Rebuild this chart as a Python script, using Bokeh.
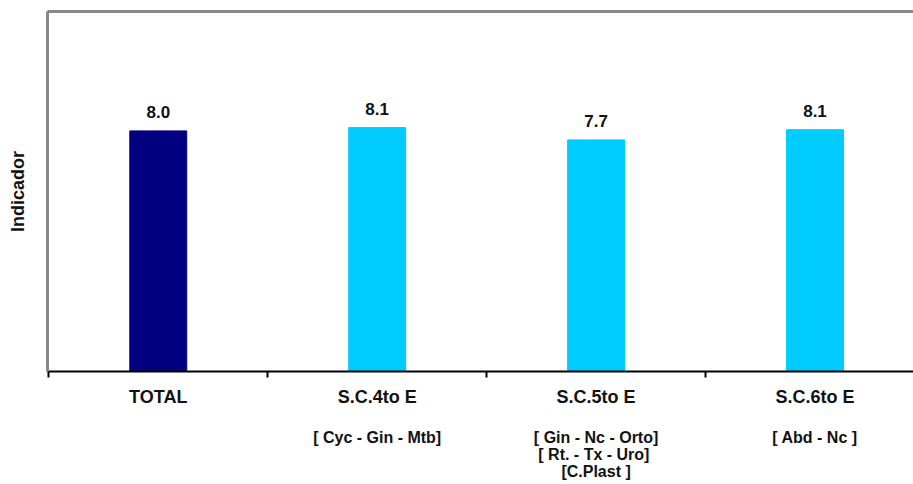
from bokeh.plotting import figure
from bokeh.models import ColumnDataSource, Range1d, LinearAxis, FixedTicker
from bokeh.core.properties import value
from bokeh.embed import file_html
from bokeh.resources import INLINE

categories = ["TOTAL", "S.C.4to E", "S.C.5to E", "S.C.6to E"]
sublabels = ["", "[ Cyc - Gin - Mtb]", "[ Gin - Nc - Orto]\n[ Rt. -  Tx - Uro]\n[C.Plast ]", "[ Abd - Nc ]"]
values = [8.02, 8.13, 7.72, 8.06]
colors = ["#000080", "#00CCFF", "#00CCFF", "#00CCFF"]

FONT = "Liberation Sans"

xs = [i + 0.5 for i in range(len(categories))]
src = ColumnDataSource(dict(
    x=xs, top=values, color=colors,
    label=["%.1f" % v for v in values],
))

p = figure(width=913, height=484, output_backend="svg", toolbar_location=None,
           x_range=Range1d(-0.006, 3.95), y_range=Range1d(0, 12),
           x_axis_type=None, y_axis_type=None,
           min_border_left=47, min_border_right=0, min_border_top=11, min_border_bottom=113)
p.outline_line_color = None
p.xgrid.visible = False
p.ygrid.visible = False
p.background_fill_color = "white"
p.border_fill_color = "white"

p.vbar(x="x", top="top", bottom=0, width=0.26, color="color", source=src)
p.text(x="x", y="top", text="label", source=src, text_align="center",
       text_baseline="alphabetic", y_offset=-19, text_font=value(FONT),
       text_font_style="bold", text_font_size="17px", text_color="#111111")

# left axis (gray border) with title
yaxis = LinearAxis(ticker=FixedTicker(ticks=[]), axis_label="Indicador",
                   axis_line_color="#888888", axis_line_width=3,
                   major_tick_line_color=None, minor_tick_line_color=None,
                   axis_label_standoff=20,
                   axis_label_text_font=FONT, axis_label_text_font_style="bold",
                   axis_label_text_font_size="18px", axis_label_text_color="#111111")
p.add_layout(yaxis, "left")

# top border
top = LinearAxis(ticker=FixedTicker(ticks=[]), axis_line_color="#888888", axis_line_width=3,
                 major_tick_line_color=None, minor_tick_line_color=None,
                 major_label_standoff=0)
p.add_layout(top, "above")

# main x axis
xaxis = LinearAxis(ticker=FixedTicker(ticks=xs, minor_ticks=list(range(len(categories) + 1))),
                   axis_line_color="black", axis_line_width=2,
                   major_tick_line_color=None, major_tick_out=0, major_tick_in=0,
                   minor_tick_line_color="black", minor_tick_line_width=2,
                   minor_tick_out=6, minor_tick_in=0,
                   major_label_overrides={x: c for x, c in zip(xs, categories)},
                   major_label_standoff=9,
                   major_label_text_font=FONT, major_label_text_font_style="bold",
                   major_label_text_font_size="18px", major_label_text_color="#111111")
p.add_layout(xaxis, "below")

# sub labels axis
xaxis2 = LinearAxis(ticker=FixedTicker(ticks=xs),
                    axis_line_color=None, major_tick_line_color=None, minor_tick_line_color=None,
                    major_tick_out=0, major_tick_in=0,
                    major_label_overrides={x: s for x, s in zip(xs, sublabels)},
                    major_label_standoff=19,
                    major_label_text_line_height=1.0,
                    major_label_text_font=FONT, major_label_text_font_style="bold",
                    major_label_text_font_size="16px", major_label_text_color="#111111")
p.add_layout(xaxis2, "below")

open("out.html", "w").write(file_html(p, INLINE))
